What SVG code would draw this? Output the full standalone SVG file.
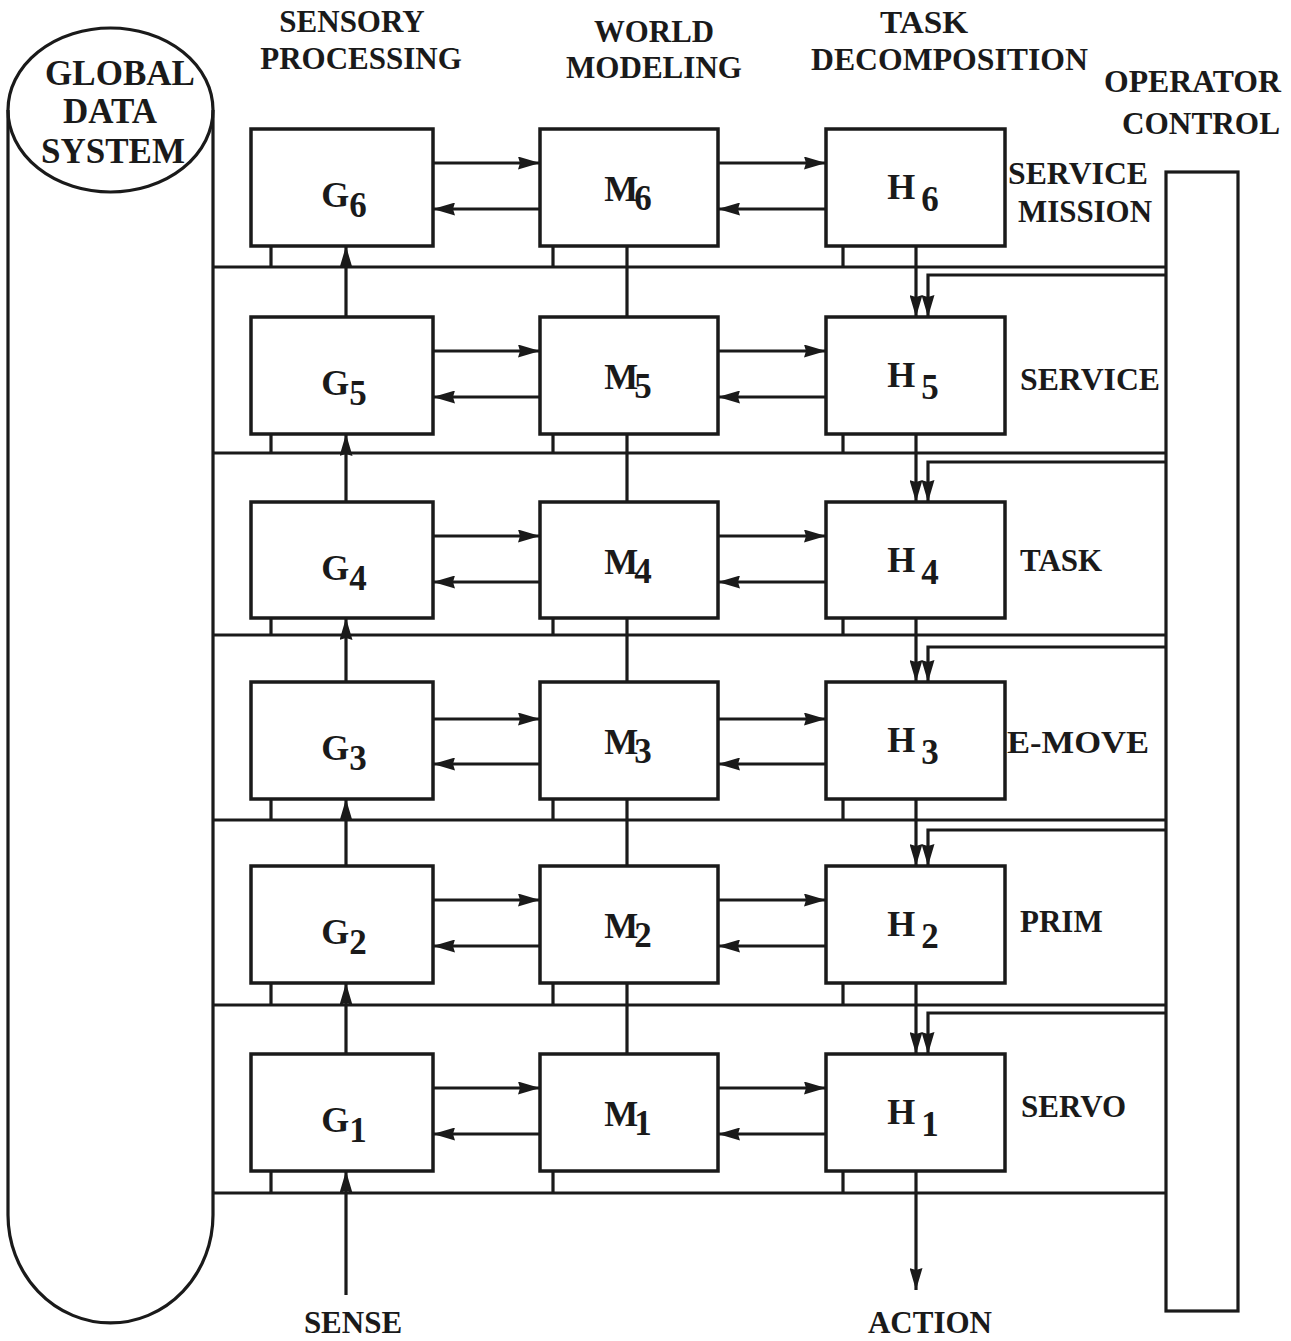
<svg xmlns="http://www.w3.org/2000/svg" width="1291" height="1341" viewBox="0 0 1291 1341">
<style>
  text { font-family: "Liberation Serif", "Times New Roman", serif; font-weight: bold; fill: #1a1a1a; }
  .hdr { font-size: 31px; text-anchor: middle; }
  .cond { font-size: 32px; }
  .gds { font-size: 35px; text-anchor: middle; }
  .row { font-size: 31px; }
  .io { font-size: 31px; text-anchor: middle; }
  .box { fill: #fff; stroke: #1a1a1a; stroke-width: 3.5; }
  .lbl { font-size: 36px; text-anchor: middle; }
  .sub { font-size: 35px; }
  .ln { fill: none; stroke: #1a1a1a; stroke-width: 3.2; }
  .arr { fill: none; stroke: #1a1a1a; stroke-width: 3.2; marker-end: url(#ah); }
</style>
<defs>
  <marker id="ah" viewBox="0 0 22 13" refX="22" refY="6.5" markerWidth="22" markerHeight="13" markerUnits="userSpaceOnUse" orient="auto">
    <path d="M0,0 L22,6.5 L0,13 L2,6.5 z" fill="#1a1a1a"/>
  </marker>
</defs>
<rect width="1291" height="1341" fill="#fff"/>

<!-- headers -->
<g id="headers">
  <text class="hdr" x="352" y="32">SENSORY</text>
  <text class="hdr" x="361" y="69">PROCESSING</text>
  <text class="cond" x="594" y="42" textLength="120" lengthAdjust="spacingAndGlyphs">WORLD</text>
  <text class="cond" x="566" y="78" textLength="176" lengthAdjust="spacingAndGlyphs">MODELING</text>
  <text class="cond" x="880" y="33" textLength="88" lengthAdjust="spacingAndGlyphs">TASK</text>
  <text class="cond" x="811" y="70" textLength="277" lengthAdjust="spacingAndGlyphs">DECOMPOSITION</text>
  <text class="cond" x="1104" y="92" textLength="177" lengthAdjust="spacingAndGlyphs">OPERATOR</text>
  <text class="cond" x="1122" y="134" textLength="158" lengthAdjust="spacingAndGlyphs">CONTROL</text>
</g>

<!-- global data system cylinder -->
<g id="global-data-system">
  <path class="ln" d="M8,110 L8,1215 A102.5,108 0 0 0 213,1215 L213,110"/>
  <ellipse cx="110.5" cy="110" rx="102.5" ry="82" fill="none" stroke="#1a1a1a" stroke-width="3.2"/>
  <text class="gds" x="120" y="85">GLOBAL</text>
  <text class="gds" x="110" y="123">DATA</text>
  <text class="gds" x="113" y="163">SYSTEM</text>
</g>

<!-- operator control -->
<g id="operator-control">
  <rect x="1166" y="172" width="72" height="1139" fill="#fff" stroke="#1a1a1a" stroke-width="3.2"/>
</g>

<!-- connectors -->
<g id="connectors">
  <!-- buses -->
  <line class="ln" x1="213" y1="267" x2="1166" y2="267"/>
  <line class="ln" x1="213" y1="453" x2="1166" y2="453"/>
  <line class="ln" x1="213" y1="635" x2="1166" y2="635"/>
  <line class="ln" x1="213" y1="820" x2="1166" y2="820"/>
  <line class="ln" x1="213" y1="1005" x2="1166" y2="1005"/>
  <line class="ln" x1="213" y1="1193" x2="1166" y2="1193"/>

  <!-- stubs from boxes to buses -->
  <path class="ln" d="M271,246 V267 M553,246 V267 M843,246 V267
                      M271,434 V453 M553,434 V453 M843,434 V453
                      M271,618 V635 M553,618 V635 M843,618 V635
                      M271,799 V820 M553,799 V820 M843,799 V820
                      M271,983 V1005 M553,983 V1005 M843,983 V1005
                      M271,1171 V1193 M553,1171 V1193 M843,1171 V1193"/>

  <!-- world model vertical links -->
  <path class="ln" d="M627,246 V317 M627,434 V502 M627,618 V682 M627,799 V866 M627,983 V1054"/>

  <!-- sensory processing upward arrows -->
  <line class="arr" x1="346" y1="317" x2="346" y2="246"/>
  <line class="arr" x1="346" y1="502" x2="346" y2="434"/>
  <line class="arr" x1="346" y1="682" x2="346" y2="618"/>
  <line class="arr" x1="346" y1="866" x2="346" y2="799"/>
  <line class="arr" x1="346" y1="1054" x2="346" y2="983"/>
  <line class="arr" x1="346" y1="1295" x2="346" y2="1171"/>

  <!-- task decomposition downward arrows -->
  <line class="arr" x1="916" y1="246" x2="916" y2="317"/>
  <line class="arr" x1="916" y1="434" x2="916" y2="502"/>
  <line class="arr" x1="916" y1="618" x2="916" y2="682"/>
  <line class="arr" x1="916" y1="799" x2="916" y2="866"/>
  <line class="arr" x1="916" y1="983" x2="916" y2="1054"/>
  <line class="arr" x1="916" y1="1171" x2="916" y2="1290"/>

  <!-- operator control commands -->
  <polyline class="arr" points="1166,275 928,275 928,317"/>
  <polyline class="arr" points="1166,462 928,462 928,502"/>
  <polyline class="arr" points="1166,647 928,647 928,682"/>
  <polyline class="arr" points="1166,830 928,830 928,866"/>
  <polyline class="arr" points="1166,1013 928,1013 928,1054"/>

  <!-- horizontal G<->M and M<->H arrows -->
  <line class="arr" x1="433" y1="163" x2="540" y2="163"/>
  <line class="arr" x1="540" y1="209" x2="433" y2="209"/>
  <line class="arr" x1="718" y1="163" x2="826" y2="163"/>
  <line class="arr" x1="826" y1="209" x2="718" y2="209"/>

  <line class="arr" x1="433" y1="351" x2="540" y2="351"/>
  <line class="arr" x1="540" y1="397" x2="433" y2="397"/>
  <line class="arr" x1="718" y1="351" x2="826" y2="351"/>
  <line class="arr" x1="826" y1="397" x2="718" y2="397"/>

  <line class="arr" x1="433" y1="536" x2="540" y2="536"/>
  <line class="arr" x1="540" y1="582" x2="433" y2="582"/>
  <line class="arr" x1="718" y1="536" x2="826" y2="536"/>
  <line class="arr" x1="826" y1="582" x2="718" y2="582"/>

  <line class="arr" x1="433" y1="719" x2="540" y2="719"/>
  <line class="arr" x1="540" y1="764" x2="433" y2="764"/>
  <line class="arr" x1="718" y1="719" x2="826" y2="719"/>
  <line class="arr" x1="826" y1="764" x2="718" y2="764"/>

  <line class="arr" x1="433" y1="900" x2="540" y2="900"/>
  <line class="arr" x1="540" y1="946" x2="433" y2="946"/>
  <line class="arr" x1="718" y1="900" x2="826" y2="900"/>
  <line class="arr" x1="826" y1="946" x2="718" y2="946"/>

  <line class="arr" x1="433" y1="1088" x2="540" y2="1088"/>
  <line class="arr" x1="540" y1="1134" x2="433" y2="1134"/>
  <line class="arr" x1="718" y1="1088" x2="826" y2="1088"/>
  <line class="arr" x1="826" y1="1134" x2="718" y2="1134"/>
</g>

<!-- sensory processing nodes -->
<g id="G6"><rect class="box" x="251" y="129" width="182" height="117"/><text class="lbl" x="344" y="207">G<tspan class="sub" dy="10">6</tspan></text></g>
<g id="G5"><rect class="box" x="251" y="317" width="182" height="117"/><text class="lbl" x="344" y="395">G<tspan class="sub" dy="10">5</tspan></text></g>
<g id="G4"><rect class="box" x="251" y="502" width="182" height="116"/><text class="lbl" x="344" y="580">G<tspan class="sub" dy="10">4</tspan></text></g>
<g id="G3"><rect class="box" x="251" y="682" width="182" height="117"/><text class="lbl" x="344" y="760">G<tspan class="sub" dy="10">3</tspan></text></g>
<g id="G2"><rect class="box" x="251" y="866" width="182" height="117"/><text class="lbl" x="344" y="944">G<tspan class="sub" dy="10">2</tspan></text></g>
<g id="G1"><rect class="box" x="251" y="1054" width="182" height="117"/><text class="lbl" x="344" y="1132">G<tspan class="sub" dy="10">1</tspan></text></g>

<!-- world modeling nodes -->
<g id="M6"><rect class="box" x="540" y="129" width="178" height="117"/><text class="lbl" x="628" y="201">M<tspan class="sub" dx="-4" dy="9">6</tspan></text></g>
<g id="M5"><rect class="box" x="540" y="317" width="178" height="117"/><text class="lbl" x="628" y="389">M<tspan class="sub" dx="-4" dy="9">5</tspan></text></g>
<g id="M4"><rect class="box" x="540" y="502" width="178" height="116"/><text class="lbl" x="628" y="574">M<tspan class="sub" dx="-4" dy="9">4</tspan></text></g>
<g id="M3"><rect class="box" x="540" y="682" width="178" height="117"/><text class="lbl" x="628" y="754">M<tspan class="sub" dx="-4" dy="9">3</tspan></text></g>
<g id="M2"><rect class="box" x="540" y="866" width="178" height="117"/><text class="lbl" x="628" y="938">M<tspan class="sub" dx="-4" dy="9">2</tspan></text></g>
<g id="M1"><rect class="box" x="540" y="1054" width="178" height="117"/><text class="lbl" x="628" y="1126">M<tspan class="sub" dx="-4" dy="9">1</tspan></text></g>

<!-- task decomposition nodes -->
<g id="H6"><rect class="box" x="826" y="129" width="179" height="117"/><text class="lbl" x="913" y="199">H<tspan class="sub" dx="6" dy="12">6</tspan></text></g>
<g id="H5"><rect class="box" x="826" y="317" width="179" height="117"/><text class="lbl" x="913" y="387">H<tspan class="sub" dx="6" dy="12">5</tspan></text></g>
<g id="H4"><rect class="box" x="826" y="502" width="179" height="116"/><text class="lbl" x="913" y="572">H<tspan class="sub" dx="6" dy="12">4</tspan></text></g>
<g id="H3"><rect class="box" x="826" y="682" width="179" height="117"/><text class="lbl" x="913" y="752">H<tspan class="sub" dx="6" dy="12">3</tspan></text></g>
<g id="H2"><rect class="box" x="826" y="866" width="179" height="117"/><text class="lbl" x="913" y="936">H<tspan class="sub" dx="6" dy="12">2</tspan></text></g>
<g id="H1"><rect class="box" x="826" y="1054" width="179" height="117"/><text class="lbl" x="913" y="1124">H<tspan class="sub" dx="6" dy="12">1</tspan></text></g>

<!-- level labels -->
<g id="level-labels">
  <text class="row" x="1008" y="184" textLength="140" lengthAdjust="spacingAndGlyphs">SERVICE</text>
  <text class="row" x="1018" y="222" textLength="134" lengthAdjust="spacingAndGlyphs">MISSION</text>
  <text class="row" x="1020" y="390" textLength="140" lengthAdjust="spacingAndGlyphs">SERVICE</text>
  <text class="row" x="1020" y="571">TASK</text>
  <text class="row" x="1007" y="753" textLength="142" lengthAdjust="spacingAndGlyphs">E-MOVE</text>
  <text class="row" x="1020" y="932">PRIM</text>
  <text class="row" x="1021" y="1117">SERVO</text>
</g>

<g id="io-labels">
  <text class="io" x="353" y="1333">SENSE</text>
  <text class="io" x="930" y="1333">ACTION</text>
</g>
</svg>
